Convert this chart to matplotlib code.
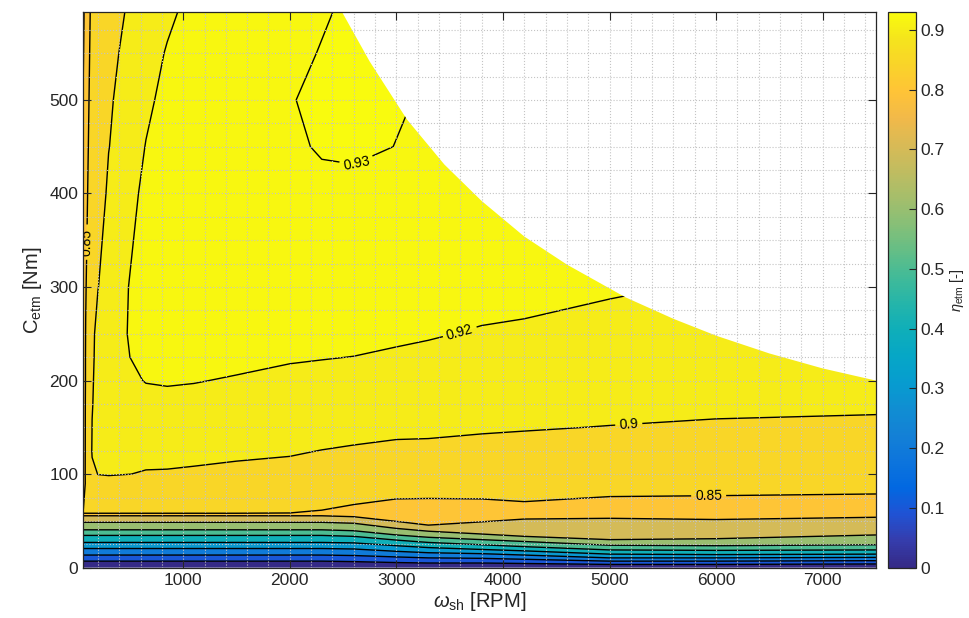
import numpy as np
import matplotlib
matplotlib.use("Agg")
import matplotlib.pyplot as plt
from matplotlib.colors import LinearSegmentedColormap, Normalize
from matplotlib.patches import Polygon
from matplotlib.ticker import MultipleLocator, FixedLocator
from matplotlib.cm import ScalarMappable

plt.rcParams['font.family'] = ['Liberation Sans', 'DejaVu Sans']
plt.rcParams['mathtext.fontset'] = 'custom'
plt.rcParams['mathtext.rm'] = 'Liberation Sans'
plt.rcParams['mathtext.it'] = 'Liberation Sans:italic'

# ---------------- data ----------------
# shaft speed columns [RPM]
speed = [60, 85, 110, 145, 200, 300, 470, 650, 850, 1100, 1500, 2000,
         2300, 2600, 3000, 3300, 3800, 4200, 5000, 6000, 7500]

# low-torque region: torque [Nm] at which each efficiency level is reached
low_levels = [0.0, 0.1, 0.2, 0.3, 0.4, 0.5, 0.6, 0.7, 0.8, 0.85]
t_000 = [0, 0, 0, 0, 0, 0, 0, 0, 0, 0, 0, 0, 0, 0, 0, 0, 0, 0, 0, 0, 0]
t_010 = [7, 7, 7, 7, 7, 7, 7, 7, 7, 7, 7, 7, 7, 6.5, 5.5, 5, 5, 4.5, 3.5, 3.5, 4]
t_020 = [13.5, 13.5, 13.5, 13.5, 13.5, 13.5, 13.5, 13.5, 13.5, 13.5, 13.5, 13.5, 13.5,
         13, 11.5, 10.5, 10, 9, 7, 7, 7.5]
t_030 = [20.5, 20.5, 20.5, 20.5, 20.5, 20.5, 20.5, 20.5, 20.5, 20.5, 20.5, 20.5, 20.5,
         20, 17.5, 16, 15, 13.5, 10.5, 10.5, 11]
t_040 = [27, 27, 27, 27, 27, 27, 27, 27, 27, 27, 27, 27, 27,
         26.5, 23.5, 21.5, 19.5, 18, 14.5, 14, 14.5]
t_050 = [34.5, 34.5, 34.5, 34.5, 34.5, 34.5, 34.5, 34.5, 34.5, 34.5, 34.5, 34.5, 34.5,
         33.5, 29.5, 27, 24.5, 22.5, 19, 18.5, 19]
t_060 = [40.5, 40.5, 40.5, 40.5, 40.5, 40.5, 40.5, 40.5, 40.5, 40.5, 40.5, 40.5, 40.5,
         39.5, 35, 32.5, 30, 28, 24, 23.5, 24.5]
t_070 = [48.5, 48.5, 48.5, 48.5, 48.5, 48.5, 48.5, 48.5, 48.5, 48.5, 48.5, 48.5, 48.5,
         47.5, 42, 39, 36, 33.5, 30, 31, 35]
t_080 = [55.5, 55.5, 55.5, 55.5, 55.5, 55.5, 55.5, 55.5, 55.5, 55.5, 55.5, 55.5, 55.5,
         54.5, 49.5, 45.5, 49, 52, 52.8, 51.5, 53.9]
t_085 = [58.2, 58.2, 58.2, 58.2, 58.2, 58.2, 58.2, 58.2, 58.2, 58.2, 58.2, 58.5, 61.5,
         67.5, 73.5, 74, 73.5, 70.6, 76, 77, 78.8]

# high-torque region: efficiency table, torque rows [Nm] x speed columns
upper_torque = [90, 100, 125, 150, 175, 200, 225, 250, 300, 400, 450, 500, 550, 600]
eta_upper = [  # one line per speed column
    [0.840, 0.838, 0.836, 0.834, 0.832, 0.830, 0.828, 0.826, 0.822, 0.812, 0.806, 0.801, 0.794, 0.788],   # 60
    [0.852, 0.853, 0.853, 0.853, 0.853, 0.852, 0.852, 0.851, 0.848, 0.840, 0.835, 0.830, 0.824, 0.818],   # 85
    [0.865, 0.868, 0.870, 0.871, 0.870, 0.869, 0.867, 0.865, 0.8605, 0.8539, 0.8502, 0.846, 0.842, 0.838],  # 110
    [0.882, 0.893, 0.9028, 0.9005, 0.899, 0.898, 0.8965, 0.895, 0.888, 0.880, 0.875, 0.8695, 0.8653, 0.8613],  # 145
    [0.889, 0.9005, 0.906, 0.907, 0.9069, 0.9065, 0.9066, 0.907, 0.8995, 0.890, 0.886, 0.882, 0.879, 0.876],  # 200
    [0.892, 0.9015, 0.9075, 0.909, 0.9095, 0.910, 0.910, 0.9087, 0.9095, 0.9033, 0.8995, 0.8976, 0.8955, 0.8936],  # 300
    [0.891, 0.9003, 0.906, 0.9095, 0.913, 0.917, 0.9192, 0.9199, 0.9195, 0.9137, 0.9097, 0.9068, 0.9035, 0.9004],  # 470
    [0.887, 0.899, 0.9045, 0.9099, 0.9153, 0.9206, 0.924, 0.924, 0.925, 0.924, 0.9206, 0.9165, 0.912, 0.9076],  # 650
    [0.8871, 0.8988, 0.9044, 0.9099, 0.9157, 0.9214, 0.9225, 0.923, 0.9235, 0.924, 0.924, 0.925, 0.9214, 0.9156],  # 850
    [0.8866, 0.8981, 0.9037, 0.9094, 0.915, 0.9207, 0.921, 0.9215, 0.9225, 0.9235, 0.924, 0.925, 0.925, 0.925],  # 1100
    [0.8857, 0.8970, 0.9024, 0.9078, 0.9133, 0.9187, 0.9241, 0.925, 0.9255, 0.926, 0.9265, 0.927, 0.927, 0.927],  # 1500
    [0.8851, 0.8962, 0.9012, 0.9063, 0.9113, 0.9164, 0.9214, 0.9245, 0.926, 0.9265, 0.928, 0.9295, 0.929, 0.9285],  # 2000
    [0.8721, 0.8798, 0.8998, 0.905, 0.910, 0.9154, 0.9206, 0.924, 0.926, 0.927, 0.9311, 0.932, 0.9302, 0.9295],  # 2300
    [0.8691, 0.8775, 0.8987, 0.904, 0.9093, 0.9145, 0.9198, 0.9245, 0.926, 0.928, 0.9312, 0.9318, 0.9315, 0.9307],  # 2600
    [0.8653, 0.8745, 0.8976, 0.9026, 0.9077, 0.9127, 0.9178, 0.9228, 0.926, 0.928, 0.9299, 0.9305, 0.9305, 0.9305],  # 3000
    [0.8649, 0.8742, 0.8975, 0.9023, 0.907, 0.9118, 0.9166, 0.9213, 0.925, 0.9275, 0.929, 0.9295, 0.9295, 0.9295],  # 3300
    [0.865, 0.8741, 0.8969, 0.9012, 0.9056, 0.9099, 0.9143, 0.9186, 0.9265, 0.927, 0.9275, 0.928, 0.928, 0.928],  # 3800
    [0.8665, 0.875, 0.8963, 0.9007, 0.9048, 0.909, 0.9132, 0.9173, 0.9257, 0.927, 0.9275, 0.928, 0.928, 0.928],  # 4200
    [0.8594, 0.8661, 0.8829, 0.8997, 0.9034, 0.9071, 0.9108, 0.9145, 0.9219, 0.925, 0.9255, 0.926, 0.926, 0.926],  # 5000
    [0.8587, 0.8654, 0.8821, 0.8988, 0.9021, 0.9054, 0.9087, 0.912, 0.9185, 0.922, 0.923, 0.923, 0.923, 0.923],  # 6000
    [0.8576, 0.8644, 0.8813, 0.8982, 0.9015, 0.9049, 0.9082, 0.9115, 0.918, 0.921, 0.922, 0.922, 0.922, 0.922],  # 7500
]

# maximum torque envelope
bnd_speed = [2490, 2750, 3100, 3450, 3800, 4200, 4600, 5150, 5600, 6000, 6500, 7000, 7500]
bnd_torque = [594, 541, 479, 431, 392, 354, 324, 289, 266, 248, 229, 213, 200]

# contour levels (filled bands + lines); labelled subset
band_levels = [0.0, 0.1, 0.2, 0.3, 0.4, 0.5, 0.6, 0.7, 0.8, 0.85, 0.9, 0.92, 0.93]
plain_levels = [0.1, 0.2, 0.3, 0.4, 0.5, 0.6, 0.7, 0.8]
label_levels = [0.85, 0.9, 0.92, 0.93]
label_pos = [(95, 348), (5930, 77), (5180, 154), (3600, 250), (2620, 434)]

x_ticks = [1000, 2000, 3000, 4000, 5000, 6000, 7000]
y_ticks = [0, 100, 200, 300, 400, 500]
cbar_ticks = [0, 0.1, 0.2, 0.3, 0.4, 0.5, 0.6, 0.7, 0.8, 0.9]

# parula colour map
parula = [
    [0.2081, 0.1663, 0.5292], [0.2081, 0.2386, 0.6771], [0.1253, 0.3242, 0.8303],
    [0.0060, 0.4086, 0.8828], [0.0498, 0.4586, 0.8641], [0.0779, 0.5040, 0.8384],
    [0.0641, 0.5570, 0.8240], [0.0265, 0.6137, 0.8135], [0.0228, 0.6535, 0.7768],
    [0.0590, 0.6838, 0.7254], [0.1453, 0.7098, 0.6646], [0.2586, 0.7317, 0.5954],
    [0.3953, 0.7459, 0.5244], [0.5300, 0.7491, 0.4661], [0.6473, 0.7456, 0.4188],
    [0.7525, 0.7384, 0.3768], [0.8507, 0.7299, 0.3360], [0.9450, 0.7261, 0.2886],
    [0.9990, 0.7653, 0.2164], [0.9789, 0.8271, 0.1633], [0.9589, 0.8949, 0.1132],
    [0.9763, 0.9831, 0.0538]]
cmap = LinearSegmentedColormap.from_list('parula', parula, N=256)
norm = Normalize(vmin=0.0, vmax=0.93)

# ---------------- build grid ----------------
S = np.array(speed, dtype=float)
ncol = len(S)
lower_T = np.array([t_000, t_010, t_020, t_030, t_040, t_050, t_060, t_070, t_080, t_085], dtype=float)
lower_Z = np.tile(np.array(low_levels)[:, None], (1, ncol))
upper_T = np.tile(np.array(upper_torque, dtype=float)[:, None], (1, ncol))
upper_Z = np.array(eta_upper, dtype=float).T
Y = np.vstack([lower_T, upper_T])
Z = np.vstack([lower_Z, upper_Z])
X = np.tile(S, (Y.shape[0], 1))

# ---------------- figure ----------------
fig = plt.figure(figsize=(9.69, 6.18), dpi=100)
ax = fig.add_axes([0.0857, 0.0814, 0.8183, 0.8992])
cax = fig.add_axes([0.9164, 0.0814, 0.0289, 0.8992])

clip_pts = [(S[0], 0.0), (bnd_speed[-1], 0.0)] + list(zip(bnd_speed[::-1], bnd_torque[::-1])) \
    + [(bnd_speed[0], 800.0), (S[0], 800.0)]
clip_patch = Polygon(clip_pts, closed=True, transform=ax.transData, facecolor='none', edgecolor='none')

eps = 1e-6
fill_edges = [-1.0] + [lv - eps for lv in band_levels[1:]] + [2.0]
band_colors = [cmap(norm(lv)) for lv in band_levels]
csf = ax.contourf(X, Y, Z, levels=fill_edges, colors=band_colors, zorder=1, antialiased=True)
csf.set_edgecolor('face')
csf.set_linewidth(0.3)
csf.set_clip_path(clip_patch)

cs1 = ax.contour(X, Y, Z, levels=np.array(plain_levels) - eps, colors='k', linewidths=1.0, zorder=2)
cs1.set_clip_path(clip_patch)
cs2 = ax.contour(X, Y, Z, levels=np.array(label_levels) - eps, colors='k', linewidths=1.0, zorder=2)
cs2.set_clip_path(clip_patch)

def fmt(v):
    return ('%.2f' % (v + eps)).rstrip('0')

ax.clabel(cs2, inline=True, fontsize=10, fmt=fmt, manual=label_pos, inline_spacing=4)

ax.set_xlim(S[0], 7500)
ax.set_ylim(0, 594)
ax.xaxis.set_major_locator(FixedLocator(x_ticks))
ax.yaxis.set_major_locator(FixedLocator(y_ticks))
ax.xaxis.set_minor_locator(MultipleLocator(200))
ax.yaxis.set_minor_locator(MultipleLocator(25))
ax.set_axisbelow(False)
ax.grid(True, which='both', linestyle=':', color='#c4c4c4', linewidth=0.8)
ax.tick_params(which='major', direction='in', top=True, right=True, length=6, width=0.8,
               labelsize=12.5, colors='#262626')
ax.tick_params(which='minor', length=0)
for sp in ax.spines.values():
    sp.set_color('#262626')
    sp.set_linewidth(0.9)
    sp.set_zorder(5)

ax.set_xlabel(r'$\omega_{\mathrm{sh}}$ [RPM]', fontsize=14.5, color='#262626', labelpad=2)
ax.set_ylabel(r'C$_{\mathrm{etm}}$ [Nm]', fontsize=14.5, color='#262626', labelpad=4)

cb = fig.colorbar(ScalarMappable(norm=norm, cmap=cmap), cax=cax)
cb.set_ticks(cbar_ticks)
cb.set_ticklabels(['%g' % t for t in cbar_ticks])
cax.tick_params(direction='in', length=5, width=0.8, labelsize=12.5, colors='#262626')
cb.outline.set_edgecolor('#262626')
cb.outline.set_linewidth(0.9)
cb.set_label(r'$\eta_{\mathrm{etm}}$ [-]', fontsize=10.5, color='#262626', labelpad=2)

fig.savefig('out.png', dpi=100)
